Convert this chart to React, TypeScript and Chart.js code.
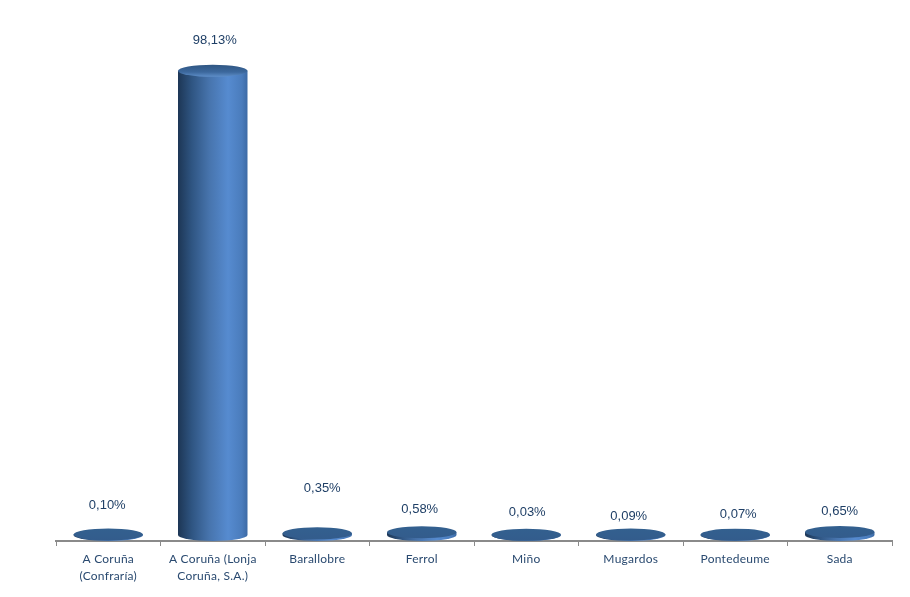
import React, { useEffect, useRef } from "react";
import { Chart, registerables } from "chart.js";

Chart.register(...registerables);

const categories: (string | string[])[] = [
  ["A Coruña", "(Confraría)"],
  ["A Coruña (Lonja", "Coruña, S.A.)"],
  "Barallobre",
  "Ferrol",
  "Miño",
  "Mugardos",
  "Pontedeume",
  "Sada",
];
const shares = [0.1, 98.13, 0.35, 0.58, 0.03, 0.09, 0.07, 0.65];
const shareLabels = ["0,10%", "98,13%", "0,35%", "0,58%", "0,03%", "0,09%", "0,07%", "0,65%"];
const labelLift = [29, 30, 45, 23, 22, 18, 20, 20];
const labelShift = [-1, 2, 5, -2, 1, -2, 3, 0];

const RY = 6;

const spacingPlugin = {
  id: "tickSpacing",
  beforeDraw(chart: any) {
    chart.ctx.letterSpacing = "0.25px";
  },
  beforeDatasetsDraw(chart: any) {
    chart.ctx.letterSpacing = "0px";
  },
};

const cylinderPlugin = {
  id: "cylinder",
  afterDatasetsDraw(chart: any) {
    const { ctx } = chart;
    const meta = chart.getDatasetMeta(0);
    meta.data.forEach((bar: any, i: number) => {
      const { x, y, base, width } = bar.getProps(["x", "y", "base", "width"], true);
      const rx = width / 2;
      const h = base - y;
      ctx.save();
      const g = ctx.createLinearGradient(x - rx, 0, x + rx, 0);
      g.addColorStop(0, "#1d3655");
      g.addColorStop(0.2, "#2f5582");
      g.addColorStop(0.45, "#4774ad");
      g.addColorStop(0.72, "#568bd0");
      g.addColorStop(0.92, "#4a7cbc");
      g.addColorStop(1, "#3c6aa5");
      ctx.beginPath();
      ctx.moveTo(x - rx, y);
      ctx.lineTo(x - rx, base);
      ctx.ellipse(x, base, rx, RY, 0, Math.PI, 0, true);
      ctx.lineTo(x + rx, y);
      ctx.closePath();
      ctx.fillStyle = g;
      ctx.fill();
      const t = ctx.createLinearGradient(0, y - RY, 0, y + RY);
      if (h > 20) {
        t.addColorStop(0, "#2f5683");
        t.addColorStop(0.6, "#3c689d");
        t.addColorStop(1, "#5f8fc9");
      } else {
        t.addColorStop(0, "#33608f");
        t.addColorStop(1, "#335c8c");
      }
      ctx.beginPath();
      ctx.ellipse(x, y, rx, RY, 0, 0, Math.PI * 2);
      ctx.fillStyle = t;
      ctx.fill();
      ctx.fillStyle = "#1f3f66";
      ctx.font = '13px "Liberation Sans"';
      ctx.textAlign = "center";
      ctx.textBaseline = "middle";
      ctx.fillText(shareLabels[i], x + labelShift[i], y - labelLift[i]);
      ctx.restore();
    });
  },
};

export default function App() {
  const ref = useRef<HTMLCanvasElement>(null);
  useEffect(() => {
    document.body.style.margin = "0";
    document.body.style.background = "#ffffff";
    const chart = new Chart(ref.current!, {
      type: "bar",
      data: {
        labels: categories as any,
        datasets: [
          {
            data: shares,
            backgroundColor: "rgba(0,0,0,0)",
            borderWidth: 0,
            barPercentage: 0.665,
            categoryPercentage: 1,
          },
        ],
      },
      options: {
        animation: false,
        responsive: false,
        layout: { padding: { left: 56, right: 18, top: 62, bottom: 0 } },
        plugins: { legend: { display: false }, tooltip: { enabled: false } },
        scales: {
          x: {
            offset: true,
            afterFit: (s: any) => {
              s.height = 56;
            },
            border: { display: true, color: "#8a8a8a", width: 2 },
            grid: {
              drawOnChartArea: false,
              drawTicks: true,
              tickLength: 5,
              color: "#8a8a8a",
            },
            ticks: {
              autoSkip: false,
              maxRotation: 0,
              minRotation: 0,
              padding: 5,
              color: "#2a4a70",
              font: { family: "Lato", size: 12, lineHeight: 1.42 },
            },
          },
          y: { display: false, min: -1.27, max: 100 },
        },
      },
      plugins: [spacingPlugin, cylinderPlugin],
    });
    return () => chart.destroy();
  }, []);
  return <canvas ref={ref} width={910} height={597} style={{ display: "block" }} />;
}
